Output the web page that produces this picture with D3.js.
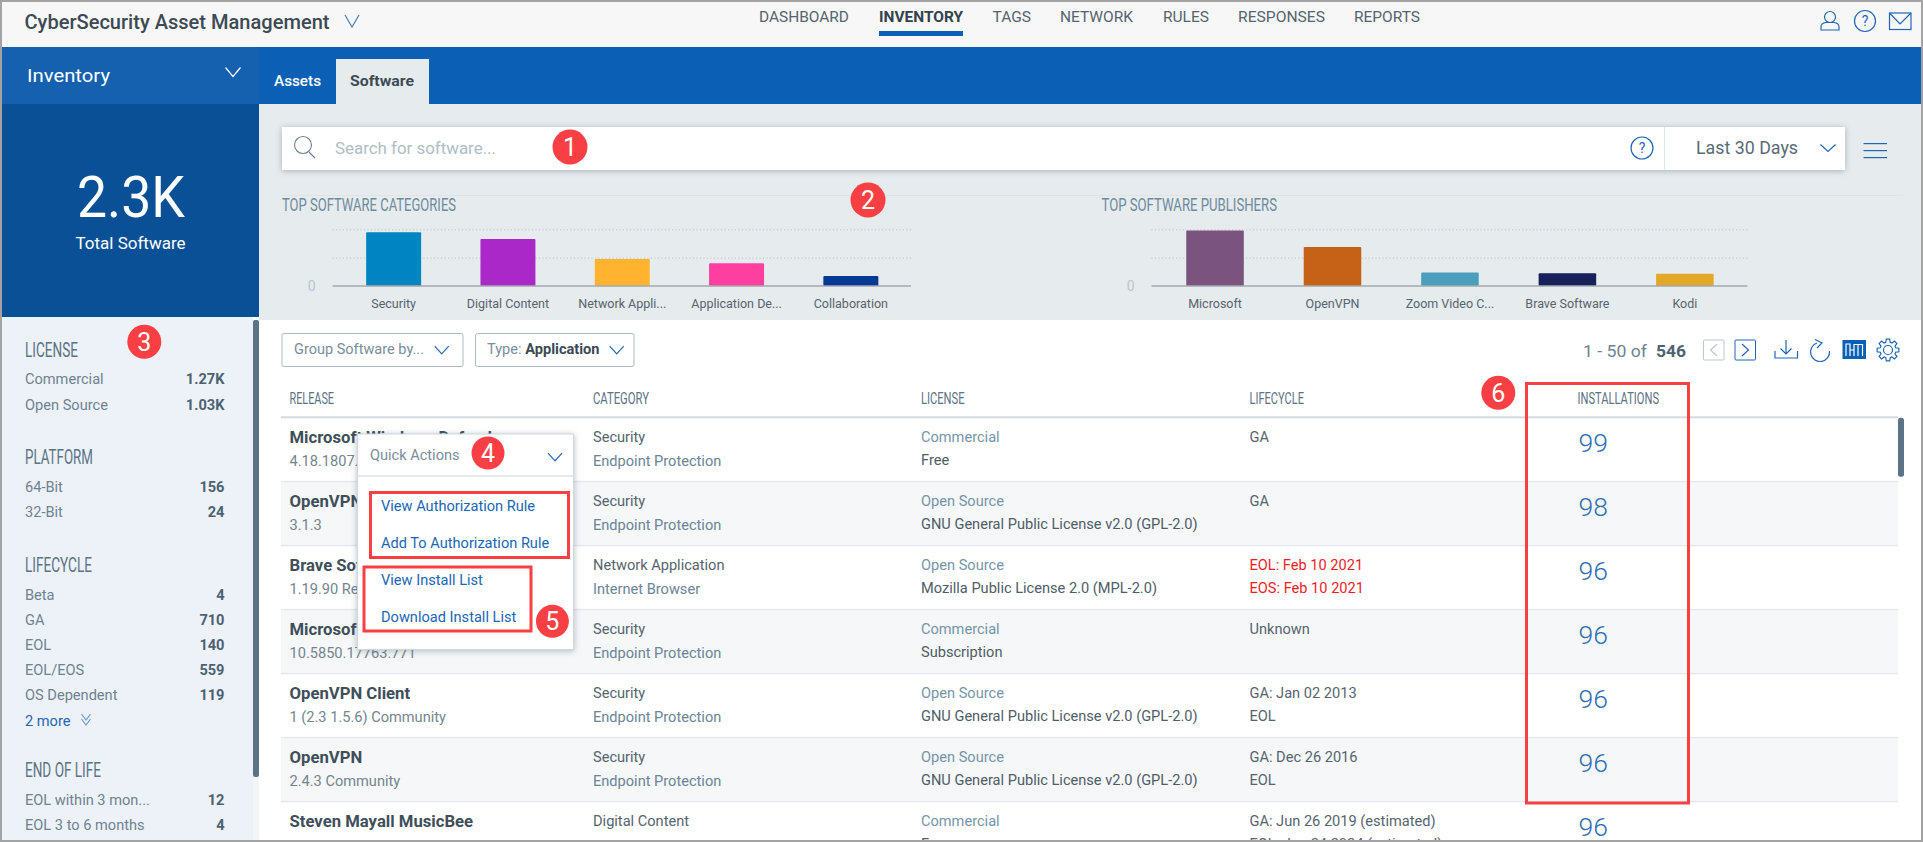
<!DOCTYPE html>
<html>
<head>
<meta charset="utf-8">
<title>CyberSecurity Asset Management</title>
<script src="https://cdn.jsdelivr.net/npm/d3@7"></script>
<style>
    html, body { margin: 0; padding: 0; background: #fff; overflow: hidden; }
    svg { display: block; font-family: Roboto, sans-serif; }
    .grid line { stroke: #b4c0c8; stroke-dasharray: 1 2.5; }
    .grid path { display: none; }
    .grid text { fill: #b9c5cd; font-size: 14px; font-family: Roboto, sans-serif; }
    .cat-axis path, .cat-axis line { display: none; }
    .cat-axis text { fill: #56646e; font-size: 12.5px; font-family: Roboto, sans-serif; }
    .shadow { filter: drop-shadow(0 1px 3px rgba(70, 90, 105, 0.4)); }
</style>
</head>
<body>
<div id="chart"></div>
<script>
// Top charts
const categoryNames = ['Security', 'Digital Content', 'Network Appli...', 'Application De...', 'Collaboration'];
const categoryValues = [190, 166, 95, 80, 35];
const categoryColors = ['#0085c3', '#aa27c8', '#ffb32f', '#ff3fa0', '#023a95'];

const publisherNames = ['Microsoft', 'OpenVPN', 'Zoom Video C...', 'Brave Software', 'Kodi'];
const publisherValues = [196, 138, 48, 45, 43];
const publisherColors = ['#7a537f', '#c56217', '#4b9fbd', '#172058', '#e3a826'];

const chartTicks = [0, 100, 200];

// Header
const navItems = ['DASHBOARD', 'INVENTORY', 'TAGS', 'NETWORK', 'RULES', 'RESPONSES', 'REPORTS'];

// Sidebar facets
const licenseFacets = ['Commercial', 'Open Source'];
const licenseCounts = ['1.27K', '1.03K'];
const platformFacets = ['64-Bit', '32-Bit'];
const platformCounts = ['156', '24'];
const lifecycleFacets = ['Beta', 'GA', 'EOL', 'EOL/EOS', 'OS Dependent'];
const lifecycleCounts = ['4', '710', '140', '559', '119'];
const endOfLifeFacets = ['EOL within 3 mon...', 'EOL 3 to 6 months'];
const endOfLifeCounts = ['12', '4'];

// Table
const releaseNames = ['Microsoft Windows Defender', 'OpenVPN', 'Brave Software Browser', 'Microsoft Defender', 'OpenVPN Client', 'OpenVPN', 'Steven Mayall MusicBee'];
const releaseVersions = ['4.18.1807.18075', '3.1.3', '1.19.90 Release', '10.5850.17763.771', '1 (2.3 1.5.6) Community', '2.4.3 Community', ''];
const rowCategories = ['Security', 'Security', 'Network Application', 'Security', 'Security', 'Security', 'Digital Content'];
const rowSubCategories = ['Endpoint Protection', 'Endpoint Protection', 'Internet Browser', 'Endpoint Protection', 'Endpoint Protection', 'Endpoint Protection', ''];
const licenseTypes = ['Commercial', 'Open Source', 'Open Source', 'Commercial', 'Open Source', 'Open Source', 'Commercial'];
const licenseNames = ['Free', 'GNU General Public License v2.0 (GPL-2.0)', 'Mozilla Public License 2.0 (MPL-2.0)', 'Subscription', 'GNU General Public License v2.0 (GPL-2.0)', 'GNU General Public License v2.0 (GPL-2.0)', 'Free'];
const lifecycleFirst = ['GA', 'GA', 'EOL: Feb 10 2021', 'Unknown', 'GA: Jan 02 2013', 'GA: Dec 26 2016', 'GA: Jun 26 2019 (estimated)'];
const lifecycleSecond = ['', '', 'EOS: Feb 10 2021', '', 'EOL', 'EOL', 'EOL: Jun 24 2024 (estimated)'];
const installations = [99, 98, 96, 96, 96, 96, 96];
const tableHeaders = ['RELEASE', 'CATEGORY', 'LICENSE', 'LIFECYCLE', 'INSTALLATIONS'];

const quickActions = ['View Authorization Rule', 'Add To Authorization Rule', 'View Install List', 'Download Install List'];

const blue = '#0b5fb4';
const iconBlue = '#1f66b4';
const slate = '#5c7385';
const red = '#f84044';
const narrow = '"Liberation Sans Narrow", Roboto, sans-serif';

const svg = d3.select('#chart').append('svg')
    .attr('width', 1923)
    .attr('height', 842)
    .attr('viewBox', '0 0 1923 842');

svg.append('defs').append('clipPath').attr('id', 'page-clip')
    .append('rect').attr('x', 2).attr('y', 2).attr('width', 1919).attr('height', 838);

const page = svg.append('g').attr('clip-path', 'url(#page-clip)');

function rect(parent, x, y, w, h, fill) {
    return parent.append('rect').attr('x', x).attr('y', y).attr('width', w).attr('height', h).attr('fill', fill);
}

function label(parent, x, y, str, size, color, opts = {}) {
    const t = parent.append('text')
        .attr('x', x)
        .attr('y', y)
        .attr('font-size', size)
        .attr('fill', color)
        .attr('font-weight', opts.weight || 400)
        .attr('text-anchor', opts.anchor || 'start')
        .text(str);
    if (opts.family) t.attr('font-family', opts.family);
    if (opts.fit) t.attr('textLength', opts.fit).attr('lengthAdjust', 'spacingAndGlyphs');
    return t;
}

function narrowLabel(parent, x, y, str, size, color, fit) {
    return label(parent, x, y, str, size, color, { family: narrow, fit });
}

function chevron(parent, cx, cy, w, h, color) {
    parent.append('path')
        .attr('d', `M${cx - w} ${cy - h}L${cx} ${cy + h}L${cx + w} ${cy - h}`)
        .attr('fill', 'none')
        .attr('stroke', color)
        .attr('stroke-width', 1.2);
}

function badge(parent, cx, cy, r, num) {
    parent.append('circle').attr('cx', cx).attr('cy', cy).attr('r', r).attr('fill', red);
    label(parent, cx, cy + 9, num, 25, '#fff', { anchor: 'middle' });
}

function helpIcon(parent, cx, cy, r) {
    parent.append('circle').attr('cx', cx).attr('cy', cy).attr('r', r)
        .attr('fill', 'none').attr('stroke', iconBlue).attr('stroke-width', 1.2);
    label(parent, cx, cy + 5, '?', 14, iconBlue, { anchor: 'middle' });
}

// Page background and frame
rect(page, 0, 0, 1923, 842, '#fff');
rect(page, 0, 2, 1923, 45, '#f7f7f7');
rect(page, 0, 47, 1923, 57, blue);
rect(page, 2, 47, 257, 57, '#1561b0');
rect(page, 2, 104, 257, 213, '#0a5096');
rect(page, 259, 104, 1664, 216, '#e6ebee');
rect(page, 2, 317, 251, 525, '#edf2f9');
rect(page, 253, 320, 6, 457, slate).attr('rx', 2);
rect(page, 253, 777, 6, 65, '#f3f6f9');

// Header
label(page, 24.5, 29, 'CyberSecurity Asset Management', 20, '#3d4a54', { weight: 500, fit: 305 });
chevron(page, 352, 21, 7, 6, '#4a7fb8');

const navX = [759, 879, 992.5, 1060, 1163, 1238, 1354];
const navW = [90, 84, 38.5, 73, 46, 87, 66];
navItems.forEach((item, i) => {
    label(page, navX[i], 22, item, 15, i === 1 ? '#33424d' : '#55646f', { weight: i === 1 ? 700 : 400, fit: navW[i] });
});
rect(page, 879, 31, 84, 5, blue);

// header icons
const userIcon = page.append('g').attr('fill', 'none').attr('stroke', iconBlue).attr('stroke-width', 1.2);
userIcon.append('circle').attr('cx', 1830).attr('cy', 17).attr('r', 5.5);
userIcon.append('path').attr('d', 'M1821 30V27Q1821 23 1826 22.5H1834Q1839 23 1839 27V30Z');
helpIcon(page, 1865, 21, 10.5);
const mailIcon = page.append('g').attr('fill', 'none').attr('stroke', iconBlue).attr('stroke-width', 1.2);
mailIcon.append('rect').attr('x', 1889.5).attr('y', 13).attr('width', 21.5).attr('height', 16.5);
mailIcon.append('path').attr('d', 'M1889.5 13L1900 24L1911 13');

// Blue band
label(page, 27, 82, 'Inventory', 19, '#fff', { fit: 83 });
chevron(page, 233, 72, 7.5, 4.5, '#fff');
label(page, 274, 86, 'Assets', 15, '#fff', { weight: 500, fit: 47 });
rect(page, 336, 59, 93, 45, '#e6ebee');
label(page, 350, 86, 'Software', 15, '#3d4a54', { weight: 700, fit: 64 });

// KPI
label(page, 131, 217, '2.3K', 57, '#fff', { anchor: 'middle', fit: 108 });
label(page, 130.5, 249, 'Total Software', 16, '#fff', { anchor: 'middle', fit: 110 });

// Search bar
rect(page, 282, 127, 1563, 43, '#fff').attr('class', 'shadow');
const searchIcon = page.append('g').attr('fill', 'none').attr('stroke', '#6a7f8e').attr('stroke-width', 1.1);
searchIcon.append('circle').attr('cx', 303).attr('cy', 145).attr('r', 8.5);
searchIcon.append('path').attr('d', 'M309 152L315 158');
label(page, 335, 154, 'Search for software...', 16, '#b0bdc6', { fit: 161 });
helpIcon(page, 1642, 148, 11);
page.append('line').attr('x1', 1664.5).attr('x2', 1664.5).attr('y1', 127).attr('y2', 170).attr('stroke', '#dfe5e9');
label(page, 1696, 154, 'Last 30 Days', 18, '#5a6a76', { fit: 102 });
chevron(page, 1828, 148, 7.5, 3.5, iconBlue);
[143, 150, 157].forEach(y => rect(page, 1863.5, y, 23.5, 1.2, iconBlue));

page.append('line').attr('x1', 282).attr('x2', 1903).attr('y1', 195.5).attr('y2', 195.5).attr('stroke', '#dde3e7');

// Bar chart panel: scales, grid, bars and category labels
function drawBarChart(cfg) {
    const g = page.append('g');

    narrowLabel(g, cfg.titleX, 211, cfg.title, 19, '#6f8a9b', cfg.titleW);

    const x = d3.scaleBand()
        .domain(cfg.names)
        .range(cfg.bandRange)
        .paddingInner(cfg.padding)
        .paddingOuter(cfg.padding / 2);

    const y = d3.scaleLinear()
        .domain([0, 200])
        .range([286, 229.3]);

    const grid = g.append('g')
        .attr('class', 'grid')
        .attr('transform', `translate(${cfg.axisX[0]},0)`)
        .call(d3.axisLeft(y)
            .tickValues(chartTicks)
            .tickSize(-(cfg.axisX[1] - cfg.axisX[0]))
            .tickPadding(17)
            .tickFormat(d => d === 0 ? '0' : ''));
    grid.selectAll('text').attr('dy', '0.32em');
    grid.selectAll('.tick').filter(d => d === 0).select('line').remove();

    g.selectAll('.bar')
        .data(cfg.values)
        .enter()
        .append('rect')
        .attr('class', 'bar')
        .attr('x', (d, i) => x(cfg.names[i]))
        .attr('y', d => y(d))
        .attr('width', x.bandwidth())
        .attr('height', d => y(0) - y(d))
        .attr('rx', 1)
        .attr('fill', (d, i) => cfg.colors[i]);

    g.append('line')
        .attr('x1', cfg.axisX[0])
        .attr('x2', cfg.axisX[1])
        .attr('y1', y(0))
        .attr('y2', y(0))
        .attr('stroke', '#a3a9ad')
        .attr('stroke-width', 1.5);

    g.append('g')
        .attr('class', 'cat-axis')
        .attr('transform', 'translate(0,286)')
        .call(d3.axisBottom(x).tickSize(0).tickPadding(13));
}

drawBarChart({
    title: 'TOP SOFTWARE CATEGORIES', titleX: 282, titleW: 174,
    names: categoryNames, values: categoryValues, colors: categoryColors,
    axisX: [332.5, 911], bandRange: [336.5, 908], padding: 0.519
});
drawBarChart({
    title: 'TOP SOFTWARE PUBLISHERS', titleX: 1101.5, titleW: 175.5,
    names: publisherNames, values: publisherValues, colors: publisherColors,
    axisX: [1151.5, 1747.5], bandRange: [1156.3, 1743.6], padding: 0.51
});

// Sidebar
function drawFacet(title, titleW, titleY, names, counts, rowYs) {
    narrowLabel(page, 25, titleY, title, 20, slate, titleW);
    names.forEach((name, i) => {
        label(page, 25, rowYs[i], name, 14.6, '#6f8291');
        label(page, 224.5, rowYs[i], counts[i], 14.6, '#4d6271', { anchor: 'end', weight: 700 });
    });
}
drawFacet('LICENSE', 53, 356.5, licenseFacets, licenseCounts, [384, 410]);
drawFacet('PLATFORM', 68, 464, platformFacets, platformCounts, [492, 517]);
drawFacet('LIFECYCLE', 67, 571.5, lifecycleFacets, lifecycleCounts, [600, 625, 650, 675, 700]);
drawFacet('END OF LIFE', 76, 776.5, endOfLifeFacets, endOfLifeCounts, [805, 830]);
label(page, 25, 726, '2 more', 14.6, iconBlue);
chevron(page, 86, 717, 4.5, 3, '#6f9ccb');
chevron(page, 86, 722, 4.5, 3, '#6f9ccb');

// Toolbar
function dropdown(x, w, chevX) {
    rect(page, x + 0.5, 333.5, w, 33, '#fff').attr('rx', 2).attr('stroke', '#a9bac6');
    chevron(page, chevX, 350, 7, 3.8, iconBlue);
}
dropdown(281.5, 181, 441.7);
label(page, 294, 354, 'Group Software by...', 14.6, '#7a8d9b', { fit: 130 });
dropdown(475, 158.5, 616.7);
const typeText = label(page, 487, 354, 'Type: ', 14.6, '#7a8d9b');
typeText.append('tspan').attr('fill', '#3d4a54').attr('font-weight', 700).text('Application');

label(page, 1583, 356.5, '1 - 50 of', 17, '#6f8291', { fit: 64 });
label(page, 1656, 356.5, '546', 17, '#4d6271', { weight: 700, fit: 30 });

rect(page, 1703.5, 340, 20.5, 20, 'none').attr('stroke', '#b9c8d2').attr('rx', 1);
page.append('path').attr('d', 'M1717 344L1710.5 350L1717 356').attr('fill', 'none').attr('stroke', '#b9c8d2').attr('stroke-width', 1.2);
rect(page, 1735, 340, 20.5, 20, 'none').attr('stroke', iconBlue).attr('rx', 1);
page.append('path').attr('d', 'M1742 344L1748.5 350L1742 356').attr('fill', 'none').attr('stroke', iconBlue).attr('stroke-width', 1.2);

// toolbar icons
const tools = page.append('g').attr('fill', 'none').attr('stroke', iconBlue).attr('stroke-width', 1.2);
tools.append('path').attr('d', 'M1775 351V358H1797.5V351M1786 340V354M1780.5 348.5L1786 354L1791.5 348.5');
tools.append('path').attr('d', 'M1817 343A9.5 9.5 0 1 0 1829.5 351M1815 339.5L1822 343L1817 348');
rect(page, 1842.5, 340, 23.5, 19, blue);
page.append('path').attr('fill', 'none').attr('stroke', '#fff').attr('stroke-width', 1.2)
    .attr('d', 'M1846 356V344H1850V356M1850 356V350H1854V356M1854 356V344.5H1862.5V356M1858 344.5V356');
const gear = tools.append('g').attr('transform', 'translate(1888,350)');
gear.append('circle').attr('r', 4.5);
gear.append('path').attr('d', d3.range(8).map(i => {
    const a0 = (i - 0.2) * Math.PI / 4, a1 = (i + 0.2) * Math.PI / 4, b = (i + 0.8) * Math.PI / 4;
    const p = (r, a) => `${(r * Math.cos(a)).toFixed(2)} ${(r * Math.sin(a)).toFixed(2)}`;
    return `${i === 0 ? 'M' : 'L'}${p(11, a0)}L${p(11, a1)}L${p(8, a1 + 0.12)}L${p(8, b - 0.12)}`;
}).join('') + 'Z');

// Table
const colX = [289.5, 593, 921, 1249.5, 1577.5];
const headerW = [44.5, 56, 43.5, 54.5, 81.5];
tableHeaders.forEach((h, i) => narrowLabel(page, colX[i], 404, h, 16.5, slate, headerW[i]));

const rowTop = d3.scaleLinear().domain([0, 1]).range([417.3, 481.3]);

rect(page, 281, 416.3, 1617, 2, '#d5dadd');
installations.forEach((count, i) => {
    const top = rowTop(i);
    if (i % 2 === 1) rect(page, 281, top + 1, 1617, 63, '#f5f7f9');
    if (i > 0) rect(page, 281, top - 0.5, 1617, 1.5, '#e3e8eb');

    label(page, colX[0], top + 25.5, releaseNames[i], 16.7, '#3f4f5a', { weight: 700 });
    label(page, colX[0], top + 49, releaseVersions[i], 14.6, '#73858f');
    label(page, colX[1], top + 24.5, rowCategories[i], 14.6, '#56646e');
    label(page, colX[1], top + 49, rowSubCategories[i], 14.6, '#6b8496');
    label(page, colX[2], top + 24.5, licenseTypes[i], 14.6, '#7595a8');
    label(page, colX[2], top + 48, licenseNames[i], 14.6, '#4f5d67');
    const eol = lifecycleFirst[i].startsWith('EOL');
    label(page, colX[3], top + 24.5, lifecycleFirst[i], 14.6, eol ? '#ee1c25' : '#56646e');
    label(page, colX[3], top + 48, lifecycleSecond[i], 14.6, eol ? '#ee1c25' : '#56646e');
    label(page, 1578.5, top + 34.4, count, 26.5, '#2f6fb5', { weight: 300 });
});
rect(page, 1898, 417.7, 6, 59, slate).attr('rx', 2.5);

// Quick actions popup
rect(page, 357.5, 434, 216, 215.5, '#fff').attr('class', 'shadow').attr('stroke', '#cfd8df');
label(page, 370, 460, 'Quick Actions', 14.6, '#7a8d9b', { fit: 89.5 });
chevron(page, 555, 457, 7, 3.8, iconBlue);
page.append('line').attr('x1', 358).attr('x2', 573).attr('y1', 476).attr('y2', 476).attr('stroke', '#c9d3da');
const actionY = [511, 548, 585, 622];
quickActions.forEach((a, i) => label(page, 381, actionY[i], a, 14.6, '#1a66b5'));

// Red annotation boxes
function redBox(x0, y0, x1, y1) {
    rect(page, x0, y0, x1 - x0, y1 - y0, 'none').attr('stroke', red).attr('stroke-width', 3);
}
redBox(370.5, 492.5, 568.5, 557.5);
redBox(364, 567, 531, 631);
redBox(1526.5, 383.5, 1688.5, 803);

badge(page, 570, 147, 17.5, '1');
badge(page, 868, 200, 17.5, '2');
badge(page, 144.3, 341.7, 17, '3');
badge(page, 488, 453, 16.5, '4');
badge(page, 552.4, 621.3, 16.5, '5');
badge(page, 1498.3, 392.7, 17, '6');

// Outer grey frame
const frame = svg.append('g').attr('fill', '#a3a3a3');
rect(frame, 0, 0, 1923, 2, '#a3a3a3');
rect(frame, 0, 840, 1923, 2, '#a3a3a3');
rect(frame, 0, 0, 2, 842, '#a3a3a3');
rect(frame, 1921, 0, 2, 842, '#a3a3a3');
</script>
</body>
</html>
